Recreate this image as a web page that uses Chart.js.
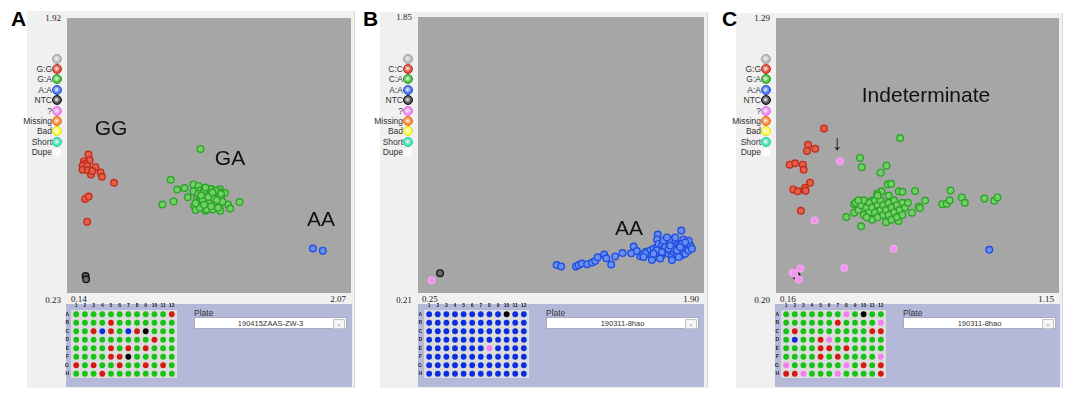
<!DOCTYPE html>
<html>
<head>
<meta charset="utf-8">
<script src="https://cdn.jsdelivr.net/npm/chart.js@4/dist/chart.umd.min.js"></script>
<style>
  body { margin: 0; background: #fff; width: 1088px; height: 403px; position: relative; overflow: hidden; font-family: "Liberation Sans", Arial, sans-serif; }
  .abs { position: absolute; }
  .frame { background: #f0f0f0; border-right: 1px solid #d8d8d8; }
  .plot { background: #a6a6a6; }
  .plate { background: #b4b9da; }
  .letter { font: bold 21px "Liberation Sans", Arial, sans-serif; color: #000; }
  .tick { font: 9px "Liberation Serif", serif; color: #222; white-space: nowrap; line-height: 10px; }
  .leg { font: 8.5px "Liberation Sans", Arial, sans-serif; color: #333; white-space: nowrap; line-height: 10px; text-align: right; }
  .sw { width: 8px; height: 8px; border-radius: 50%; border: 1px solid; }
  .note { font: 21px "Liberation Sans", Arial, sans-serif; color: #111; white-space: nowrap; line-height: 24px; transform: translate(-50%, -50%); }
  .combo { background: #fff; border: 1px solid #a8acc0; font: 7.5px "Liberation Sans", Arial, sans-serif; color: #333; text-align: center; line-height: 11px; }
  .btn { position: absolute; right: 1px; top: 1px; width: 10px; height: 8px; border: 1px solid #c4c4c4; background: #f4f4f4; font: 6px "DejaVu Sans", sans-serif; line-height: 7px; color: #777; }
</style>
</head>
<body>
<script>
// ---- etiquetas de la leyenda ----
const legendA = ['', 'G:G', 'G:A', 'A:A', 'NTC', '?', 'Missing', 'Bad', 'Short', 'Dupe'];
const legendB = ['', 'C:C', 'C:A', 'A:A', 'NTC', '?', 'Missing', 'Bad', 'Short', 'Dupe'];
const legendC = ['', 'G:G', 'G:A', 'A:A', 'NTC', '?', 'Missing', 'Bad', 'Short', 'Dupe'];

// ---- limites de los ejes (min, max) ----
const xTicksA = [0.14, 2.07], yTicksA = [0.23, 1.92];
const xTicksB = [0.25, 1.90], yTicksB = [0.21, 1.85];
const xTicksC = [0.16, 1.15], yTicksC = [0.20, 1.29];

// ---- placas ----
const plateCols = [1, 2, 3, 4, 5, 6, 7, 8, 9, 10, 11, 12];
const plateRows = ['A', 'B', 'C', 'D', 'E', 'F', 'G', 'H'];
const plateNames = ['190415ZAAS-ZW-3', '190311-8hao', '190311-8hao'];

// R = homocigoto 1, G = heterocigoto, B = homocigoto 2, K = NTC, P = ?
const plateA = [
  'GGGGGGGGGGGR',
  'GGGGRGGGGGGG',
  'GGRBRGBRKGGG',
  'GGGGGGGGGRGG',
  'GGGGRGRGRGGG',
  'GGGGRRKGGGGG',
  'RGRGGRGGRGRG',
  'GGGRGGGGGGGG'
];
const plateB = [
  'BBBBBBBBBKBB',
  'BBBBBBBBBBBB',
  'BBBBBBBBBBBB',
  'BBBBBBBBBBBB',
  'BBBBBBBPBBBB',
  'BBBBBBBBBBBB',
  'BBBBBBBBBBBB',
  'BBBBBBBBBBBB'
];
const plateC = [
  'GGGGGGGPGKGG',
  'GGGGGGRGGGGP',
  'GRGGGGGGGGRR',
  'GBGGRPGGGGGG',
  'GGGGRRGRGGGG',
  'GGGGRGRGGGGP',
  'PGGGGGGPGRGR',
  'RRPGGGPGGGGR'
];

// ---- puntos del grafico A ----
const ggA = [[0.253,1.082],[0.262,1.045],[0.221,1.037],[0.230,1.021],[0.212,1.010],[0.244,1.008],[0.212,0.984],[0.249,0.980],[0.271,0.953],
  [0.303,1.000],[0.339,0.967],[0.348,0.939],[0.434,0.900],[0.230,0.797],[0.255,0.812],[0.244,0.652],[0.280,0.976]];
const gaA = [[1.045,1.117],[0.835,0.920],[0.776,0.761],[0.855,0.781],[0.880,0.857],[0.932,0.867],[0.955,0.808],[0.995,0.890],[1.031,0.879],
  [0.995,0.845],[1.181,0.859],[1.217,0.836],[1.321,0.777],[1.240,0.761],[1.255,0.736],[1.185,0.722],[1.000,0.754],[1.011,0.726],
  [1.079,0.722],[1.041,0.851],[1.079,0.845],
  [1.02,0.80],[1.03,0.78],[1.04,0.82],[1.05,0.79],[1.05,0.76],[1.06,0.81],[1.06,0.77],[1.07,0.83],[1.07,0.79],[1.08,0.75],
  [1.08,0.80],[1.09,0.82],[1.09,0.77],[1.10,0.79],[1.10,0.84],[1.10,0.76],[1.11,0.81],[1.11,0.74],[1.12,0.78],[1.12,0.83],
  [1.13,0.80],[1.13,0.76],[1.14,0.82],[1.14,0.78],[1.15,0.75],[1.15,0.80],[1.16,0.83],[1.16,0.77],[1.17,0.79],[1.17,0.81],
  [1.18,0.76],[1.18,0.84],[1.19,0.80],[1.04,0.74],[1.07,0.85],[1.12,0.86],[1.20,0.78],[1.09,0.73],[1.13,0.73],[1.15,0.85],
  [1.03,0.83],[1.08,0.87],[1.11,0.77],[1.06,0.79],[1.14,0.80],[1.10,0.81],[1.12,0.75],[1.16,0.79],[1.05,0.82],[1.19,0.83],
  [1.01,0.77],[1.17,0.74],[1.07,0.76],[1.13,0.84]];
const aaA = [[1.839,0.480],[1.909,0.466]];
const ntcA = [[0.233,0.304],[0.237,0.283]];

// ---- puntos del grafico B ----
const aaB = [[1.049,0.349],[1.076,0.341],[1.165,0.341],[1.180,0.349],[1.199,0.359],[1.232,0.355],[1.261,0.365],[1.280,0.375],[1.295,0.397],
  [1.334,0.414],[1.347,0.391],[1.376,0.353],[1.399,0.403],[1.444,0.424],[1.496,0.422],[1.511,0.464],[1.530,0.436],[1.550,0.404],
  [1.565,0.414],[1.584,0.432],[1.607,0.428],[1.655,0.538],[1.651,0.508],[1.713,0.504],[1.722,0.510],[1.796,0.563],[1.809,0.508],
  [1.834,0.480],[1.854,0.460],[1.819,0.450],
  [1.60,0.42],[1.61,0.44],[1.62,0.41],[1.63,0.45],[1.64,0.43],[1.64,0.40],[1.65,0.46],[1.66,0.42],[1.66,0.48],[1.67,0.44],
  [1.68,0.41],[1.68,0.47],[1.69,0.45],[1.70,0.43],[1.70,0.49],[1.71,0.46],[1.72,0.42],[1.72,0.48],[1.73,0.44],[1.73,0.50],
  [1.74,0.46],[1.74,0.41],[1.75,0.47],[1.75,0.43],[1.76,0.45],[1.76,0.49],[1.77,0.42],[1.77,0.47],[1.78,0.44],[1.78,0.46],
  [1.79,0.48],[1.79,0.43],[1.80,0.45],[1.80,0.41],[1.81,0.47],[1.81,0.44],[1.82,0.46],[1.82,0.42],[1.83,0.45],[1.83,0.48],
  [1.84,0.44],[1.85,0.47],[1.86,0.45],[1.84,0.50],[1.69,0.50],[1.71,0.52],[1.67,0.39],[1.62,0.38],[1.58,0.42],[1.57,0.40],
  [1.76,0.52],[1.78,0.40],[1.74,0.38],[1.65,0.44],[1.70,0.46],[1.75,0.45],[1.80,0.48],[1.72,0.45],[1.63,0.42],[1.77,0.44],
  [1.82,0.49],[1.68,0.43],[1.73,0.47],[1.79,0.46]];
const ntcB = [[0.350,0.299]];
const unkB = [[0.300,0.254]];

// ---- puntos del grafico C ----
const ggC = [[0.315,0.856],[0.257,0.789],[0.283,0.773],[0.253,0.764],[0.190,0.707],[0.210,0.713],[0.238,0.707],[0.241,0.686],
  [0.264,0.633],[0.203,0.605],[0.219,0.597],[0.243,0.604],[0.246,0.612],[0.231,0.517],[0.248,0.600]];
const gaC = [[0.592,0.817],[0.446,0.735],[0.452,0.697],[0.542,0.703],[0.521,0.674],[0.547,0.626],[0.559,0.628],[0.587,0.597],
  [0.600,0.595],[0.524,0.597],[0.508,0.587],[0.646,0.599],[0.683,0.559],[0.659,0.535],[0.664,0.528],[0.635,0.509],[0.745,0.544],
  [0.761,0.546],[0.772,0.560],[0.775,0.601],[0.816,0.572],[0.827,0.550],[0.898,0.568],[0.934,0.558],[0.946,0.572],[0.396,0.491],
  [0.450,0.453],[0.586,0.475],[0.544,0.479],[0.425,0.509],[0.424,0.544],[0.440,0.539],[0.457,0.552],[0.489,0.559],
  [0.43,0.55],[0.44,0.52],[0.45,0.54],[0.46,0.50],[0.46,0.56],[0.47,0.53],[0.48,0.51],[0.48,0.55],[0.49,0.48],[0.49,0.53],
  [0.50,0.56],[0.50,0.51],[0.51,0.54],[0.51,0.49],[0.52,0.52],[0.52,0.56],[0.53,0.50],[0.53,0.54],[0.54,0.47],[0.54,0.52],
  [0.55,0.55],[0.55,0.50],[0.56,0.53],[0.56,0.48],[0.57,0.51],[0.57,0.56],[0.58,0.54],[0.58,0.49],[0.59,0.52],[0.60,0.55],
  [0.61,0.53],[0.62,0.55],[0.47,0.49],[0.44,0.56],[0.51,0.58],[0.55,0.58],[0.60,0.50]];
const aaC = [[0.916,0.356]];
const ntcC = [[0.215,0.249]];
const unkC = [[0.373,0.722],[0.281,0.477],[0.568,0.360],[0.389,0.281],[0.201,0.261],[0.229,0.279],[0.223,0.233],[0.207,0.258]];

// ---- estilos ----
const pointColors = {
  R: { bg: '#e4604c', bd: '#c42c1c' },
  G: { bg: '#72d066', bd: '#2ea42a' },
  B: { bg: '#6a8ef2', bd: '#1f4fe0' },
  K: { bg: '#6a6a6a', bd: '#161616' },
  P: { bg: '#f290ee', bd: '#f2a6f0' }
};
const wellColor = { R: '#d41a12', G: '#16c216', B: '#0a2ee0', K: '#000000', P: '#f27ef0' };
const legendSwatch = [
  ['#bdbdbd', '#9c9c9c'], ['#e0503c', '#c0281a'], ['#4cc040', '#2a9a22'], ['#4a78ee', '#1e4ad4'], ['#4a4a4a', '#111111'],
  ['#f08cf0', '#e070e8'], ['#ff8a3a', '#e86a10'], ['#ffff4a', '#e2dc20'], ['#46e6b8', '#22c896'], ['#ffffff', '#f2f2f2']
];

const panels = [
  { letter: 11, frame: [27, 11, 327, 377], plot: [67, 18, 284, 275], plate: [66, 304, 286, 83], grid: [71, 310, 110, 73],
    legend: legendA, xT: xTicksA, yT: yTicksA, wells: plateA, name: plateNames[0],
    series: [['G', gaA], ['R', ggA], ['B', aaA], ['K', ntcA]],
    notes: [['GG', 111, 128], ['GA', 230, 158], ['AA', 321, 219]] },
  { letter: 363, frame: [380, 12, 327, 376], plot: [418, 17, 286, 276], plate: [418, 304, 286, 83], grid: [424, 310, 109, 73],
    legend: legendB, xT: xTicksB, yT: yTicksB, wells: plateB, name: plateNames[1],
    series: [['B', aaB], ['K', ntcB], ['P', unkB]],
    notes: [['AA', 629, 228]] },
  { letter: 722, frame: [736, 13, 326, 375], plot: [776, 18, 283, 275], plate: [775, 304, 285, 83], grid: [781, 310, 109, 73],
    legend: legendC, xT: xTicksC, yT: yTicksC, wells: plateC, name: plateNames[2],
    series: [['G', gaC], ['R', ggC], ['B', aaC], ['P', unkC], ['K', ntcC]],
    notes: [['Indeterminate', 926, 95], ['\u2193', 837, 143]] }
];

function el(cls, x, y, w, h, text) {
  const d = document.createElement('div');
  d.className = 'abs ' + cls;
  d.style.left = x + 'px';
  d.style.top = y + 'px';
  if (w != null) d.style.width = w + 'px';
  if (h != null) d.style.height = h + 'px';
  if (text != null) d.textContent = text;
  document.body.appendChild(d);
  return d;
}

function canvasAt(x, y, w, h) {
  const c = document.createElement('canvas');
  c.width = w; c.height = h;
  c.className = 'abs';
  c.style.left = x + 'px';
  c.style.top = y + 'px';
  c.style.width = w + 'px';
  c.style.height = h + 'px';
  document.body.appendChild(c);
  return c;
}

const fmt = v => v.toFixed(2);

const wellBg = {
  id: 'wellBg',
  beforeDraw(chart) {
    const a = chart.chartArea, ctx = chart.ctx;
    ctx.save();
    ctx.fillStyle = '#dcdcdc';
    ctx.fillRect(a.left, a.top, a.right - a.left, a.bottom - a.top);
    ctx.restore();
  }
};

panels.forEach(p => {
  const [px, py, pw, ph] = p.plot;
  el('frame', p.frame[0], p.frame[1], p.frame[2], p.frame[3]);
  el('letter', p.letter, 7, null, null, ['A', 'B', 'C'][panels.indexOf(p)]);
  el('plot', px, py, pw, ph);
  el('plate', p.plate[0], p.plate[1], p.plate[2], p.plate[3]);

  // esquinas de los ejes
  el('tick', px - 46, py - 5, 40, null, fmt(p.yT[1])).style.textAlign = 'right';
  el('tick', px - 46, py + ph + 2, 40, null, fmt(p.yT[0])).style.textAlign = 'right';
  el('tick', px + 4, py + ph + 1, 40, null, fmt(p.xT[0]));
  el('tick', px + pw - 45, py + ph + 1, 40, null, fmt(p.xT[1])).style.textAlign = 'right';

  // leyenda
  p.legend.forEach((lab, i) => {
    const cy = 58.6 + i * 10.38;
    el('leg', px - 60, cy - 5, 45, null, lab);
    const s = el('sw', px - 15, cy - 5, null, null);
    s.style.background = 'radial-gradient(circle at 45% 45%, #ffffff55 0, ' + legendSwatch[i][0] + ' 55%)';
    s.style.borderColor = legendSwatch[i][1];
  });

  // grafico de dispersion
  const cv = canvasAt(px, py, pw, ph);
  new Chart(cv, {
    type: 'scatter',
    data: {
      datasets: p.series.map(([k, pts]) => ({
        data: pts.map(q => ({ x: q[0], y: q[1] })),
        pointRadius: 3.3,
        pointBorderWidth: 1.4,
        pointBackgroundColor: pointColors[k].bg,
        pointBorderColor: pointColors[k].bd
      }))
    },
    options: {
      animation: false, responsive: false, events: [],
      layout: { padding: 0 },
      plugins: { legend: { display: false }, tooltip: { enabled: false } },
      scales: {
        x: { type: 'linear', min: p.xT[0], max: p.xT[1], display: false },
        y: { type: 'linear', min: p.yT[0], max: p.yT[1], display: false }
      }
    }
  });

  // anotaciones
  p.notes.forEach(([t, x, y]) => el('note', x, y, null, null, t));

  // placa de 96 pozos
  const [gx, gy, gw, gh] = p.grid;
  const pc = canvasAt(gx - 8, gy - 7, gw + 8, gh + 7);
  const pts = [], cols = [];
  p.wells.forEach((row, i) => row.split('').forEach((c, j) => {
    pts.push({ x: plateCols[j], y: i + 1 });
    cols.push(wellColor[c]);
  }));
  new Chart(pc, {
    type: 'scatter',
    data: { datasets: [{ data: pts, pointRadius: 2.9, pointBorderWidth: 0, pointBackgroundColor: cols }] },
    options: {
      animation: false, responsive: false, events: [],
      layout: { padding: 0 },
      plugins: { legend: { display: false }, tooltip: { enabled: false } },
      scales: {
        x: {
          type: 'linear', position: 'top', min: 0.4, max: 12.6,
          grid: { display: false, drawTicks: false }, border: { display: false },
          afterFit: s => { s.height = 7; },
          afterBuildTicks: s => { s.ticks = plateCols.map(v => ({ value: v })); },
          ticks: { font: { size: 5, weight: 'bold' }, color: '#222', padding: 1, maxRotation: 0, autoSkip: false }
        },
        y: {
          type: 'linear', reverse: true, min: 0.5, max: 8.5,
          grid: { display: false, drawTicks: false }, border: { display: false },
          afterFit: s => { s.width = 8; },
          afterBuildTicks: s => { s.ticks = plateRows.map((r, i) => ({ value: i + 1 })); },
          ticks: { font: { size: 5, weight: 'bold' }, color: '#222', padding: 2, autoSkip: false, callback: v => plateRows[v - 1] }
        }
      }
    },
    plugins: [wellBg]
  });

  // selector de placa
  const lx = p.plate[0] + 128;
  el('leg', lx, 308, null, null, 'Plate').style.textAlign = 'left';
  const combo = el('combo', lx, 317, 151, 10, p.name);
  const b = document.createElement('div');
  b.className = 'btn';
  b.textContent = '\u2304';
  combo.appendChild(b);
});
</script>
</body>
</html>
